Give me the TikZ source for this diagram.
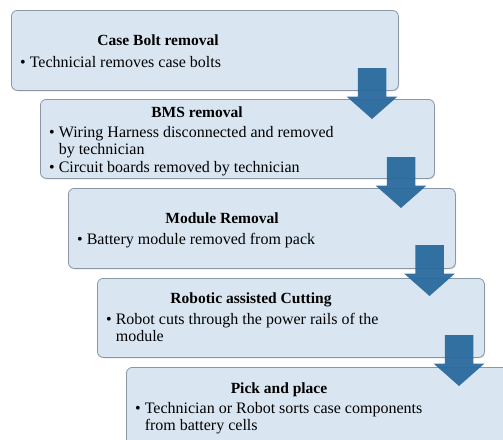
\documentclass[tikz,border=0pt]{standalone}
\usepackage{fontspec}
\setmainfont{Liberation Serif}
\usetikzlibrary{shadows}
\definecolor{boxfill}{HTML}{D9E6F2}
\definecolor{boxline}{HTML}{8A98A6}
\definecolor{arrowblue}{HTML}{2A6A9E}
\newcommand{\bulletlines}[2]{\vtop{\hbox{\textbullet\ #1}\hbox{\hphantom{\textbullet\ }#2}}}
\newcommand{\blockarrowat}[2]{%
  \fill[blockarrow] (#1-14.25,#2) -- (#1+14.25,#2) -- (#1+14.25,#2+28.5) -- (#1+25.5,#2+28.5)
    -- (#1,#2+51) -- (#1-25.5,#2+28.5) -- (#1-14.25,#2+28.5) -- cycle;}
\begin{document}
\begin{tikzpicture}[x=1pt,y=-1pt,
  stepbox/.style={draw=boxline, line width=0.8pt, fill=boxfill, rounded corners=6pt,
    anchor=north west, inner sep=0pt,
    drop shadow={shadow xshift=0.7pt, shadow yshift=-0.9pt, opacity=0.35}},
  titletext/.style={font=\fontsize{15.5}{17.5}\selectfont\bfseries, anchor=base, inner sep=0pt},
  bullettext/.style={font=\fontsize{16}{17.5}\selectfont, anchor=base west, inner sep=0pt},
  blockarrow/.style={fill=arrowblue, fill opacity=0.95}]
\useasboundingbox (0,0) rectangle (503,439);
\clip (0,0) rectangle (503,439);
% boxes
\node[stepbox, minimum width=387pt, minimum height=80pt] (b1) at (11,10) {};
\node[stepbox, minimum width=394pt, minimum height=79pt] (b2) at (40,99) {};
\node[stepbox, minimum width=387pt, minimum height=80pt] (b3) at (68,188) {};
\node[stepbox, minimum width=387pt, minimum height=79pt] (b4) at (97,278) {};
\node[stepbox, minimum width=420pt, minimum height=110pt] (b5) at (126,367) {};
% texts
\node[titletext] (t1) at (158,45) {Case Bolt removal};
\node[bullettext] (l1) at (20,67) {\textbullet\ Technicial removes case bolts};
\node[titletext] (t2) at (197,117) {BMS removal};
\node[bullettext] (l2a) at (49,137) {\bulletlines{Wiring Harness disconnected and removed}{by technician}};
\node[bullettext] (l2b) at (49,172) {\textbullet\ Circuit boards removed by technician};
\node[titletext] (t3) at (222,223) {Module Removal};
\node[bullettext] (l3) at (77,244) {\textbullet\ Battery module removed from pack};
\node[titletext] (t4) at (251,303) {Robotic assisted Cutting};
\node[bullettext] (l4) at (106,324) {\bulletlines{Robot cuts through the power rails of the}{module}};
\node[titletext] (t5) at (279,393) {Pick and place};
\node[bullettext] (l5) at (135,413) {\bulletlines{Technician or Robot sorts case components}{from battery cells}};
% arrows
\blockarrowat{372}{68}
\blockarrowat{401}{157}
\blockarrowat{429.5}{245}
\blockarrowat{459}{335}
\end{tikzpicture}
\end{document}
